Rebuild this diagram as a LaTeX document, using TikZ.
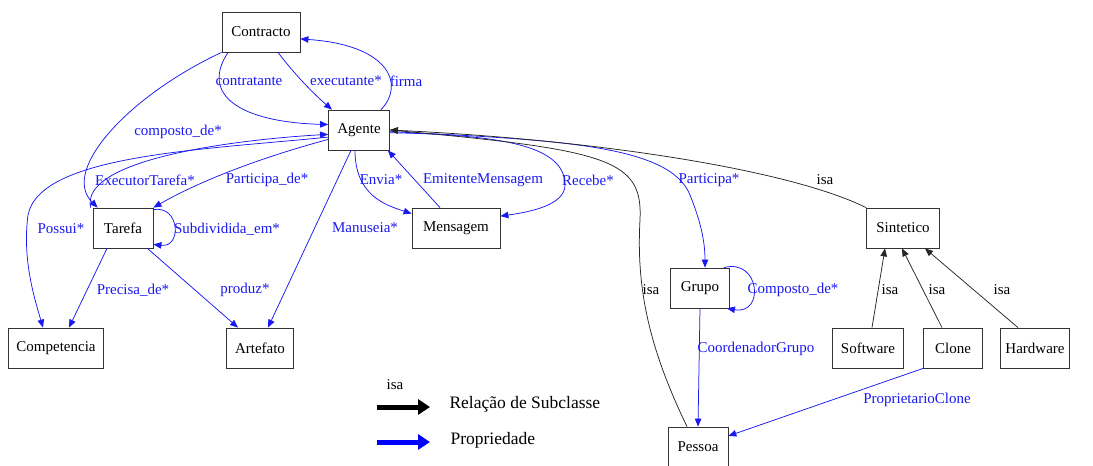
\documentclass[tikz,border=0pt]{standalone}
\usepackage{fontspec}
\setmainfont{Liberation Serif}
\usepackage{xcolor}
\usepackage{tikz}
\usetikzlibrary{arrows.meta,positioning}

\definecolor{propblue}{RGB}{25,25,240}

\begin{document}
\begin{tikzpicture}[x=1pt,y=-1pt,font=\fontsize{15}{17}\selectfont,
    box/.style={draw=black!80,line width=0.8pt,minimum height=40pt,inner xsep=4pt,fill=white},
    prop/.style={propblue,line width=0.75pt,-{Triangle[length=8pt,width=6.5pt]}},
    isa/.style={black!85,line width=0.75pt,-{Triangle[length=8pt,width=6.5pt]}},
    plab/.style={text=propblue,inner sep=1pt},
    ilab/.style={text=black,inner sep=1pt},
    legk/.style={black,line width=5pt,-{Triangle[length=12pt,width=15pt]}},
    legp/.style={blue,line width=5pt,-{Triangle[length=12pt,width=15pt]}}]
\useasboundingbox (0,0) rectangle (1093,466);

\node[box,minimum width=78pt] (contr) at (261,32) {Contracto};
\node[box,minimum width=61pt] (agente) at (359,130) {Agente};
\node[box,minimum width=60pt] (tarefa) at (123,228) {Tarefa};
\node[box,minimum width=88pt] (msg) at (456,228) {Mensagem};
\node[box,minimum width=95pt] (comp) at (56,348) {Competencia};
\node[box,minimum width=67pt] (artef) at (260,348) {Artefato};
\node[box,minimum width=59pt] (grupo) at (700,288) {Grupo};
\node[box,minimum width=60pt] (pessoa) at (698,447) {Pessoa};
\node[box,minimum width=73pt] (sint) at (903,228) {Sintetico};
\node[box,minimum width=71pt] (soft) at (868,348) {Software};
\node[box,minimum width=59pt] (clone) at (953,348) {Clone};
\node[box,minimum width=69pt] (hard) at (1035,348) {Hardware};

\draw[prop] ([xshift=-33pt]contr.south) .. controls (200,95) and (240,122) .. (agente.170);
\draw[prop] ([xshift=17pt]contr.south) .. controls (295,75) and (315,95) .. ([xshift=-27pt]agente.north);
\draw[prop] ([xshift=22pt]agente.north) .. controls (405,85) and (390,45) .. (contr.-10);
\draw[prop] (contr.south west) .. controls (130,95) and (60,170) .. ([xshift=5pt]tarefa.north west);
\draw[prop] ([xshift=-2pt]tarefa.north west) .. controls (80,160) and (230,140) .. (agente.188);
\draw[prop] (agente.193) .. controls (200,150) and (40,155) .. (28,215) .. controls (22,260) and (35,300) .. ([xshift=-13pt]comp.north);
\draw[prop] (agente.197) .. controls (270,155) and (205,178) .. (tarefa.north east);
\draw[prop] ([yshift=-2pt]tarefa.north east) .. controls (180,205) and (182,248) .. ([yshift=4pt]tarefa.south east);
\draw[prop] ([xshift=-16pt]tarefa.south) -- ([xshift=13pt]comp.north);
\draw[prop] ([xshift=-6pt]tarefa.south east) -- ([xshift=-22pt]artef.north);
\draw[prop] ([xshift=-8pt]agente.south) -- ([xshift=8pt]artef.north);
\draw[prop] ([xshift=-4pt]agente.south) .. controls (355,195) and (385,205) .. ([yshift=-6pt]msg.north west);
\draw[prop] ([xshift=-16pt]msg.north) -- ([xshift=-2pt]agente.south east);
\draw[prop] (agente.-5) .. controls (500,135) and (565,145) .. (565,185) .. controls (565,205) and (530,212) .. (msg.15);
\draw[prop] (agente.-3) .. controls (560,140) and (670,145) .. (690,195) .. controls (700,220) and (705,240) .. ([xshift=5pt]grupo.north);
\draw[isa] ([xshift=-11pt]pessoa.north) .. controls (650,350) and (636,290) .. (640,220) .. controls (643,160) and (610,150) .. (agente.east);
\draw[isa] (sint.north west) .. controls (790,170) and (600,140) .. (agente.east);
\draw[prop] ([xshift=-6pt]grupo.north east) .. controls (760,258) and (765,315) .. ([xshift=-3pt]grupo.south east);
\draw[prop] (grupo.south) -- (pessoa.north);
\draw[prop] (clone.south west) -- (pessoa.20);
\foreach \src/\dx/\tx in {soft/4/-18,clone/-11/-1,hard/-17/22}
    \draw[isa] ([xshift=\dx pt]\src.north) -- ([xshift=\tx pt]sint.south);

\node[plab] (lcontratante) at (249,81) {contratante};
\node[plab] (lexecutante) at (346,81) {executante*};
\node[plab] (lfirma) at (406,81) {firma};
\node[plab] (lcomposto) at (178,132) {composto\_de*};
\node[plab] (lexecutor) at (145,180) {ExecutorTarefa*};
\node[plab] (lparticipade) at (267,180) {Participa\_de*};
\node[plab] (lpossui) at (61,229) {Possui*};
\node[plab] (lsubdiv) at (227,229) {Subdividida\_em*};
\node[plab] (lprecisa) at (133,290) {Precisa\_de*};
\node[plab] (lproduz) at (245,290) {produz*};
\node[plab] (lmanuseia) at (365,228) {Manuseia*};
\node[plab] (lenvia) at (381,180) {Envia*};
\node[plab] (lemitente) at (483,180) {EmitenteMensagem};
\node[plab] (lrecebe) at (588,180) {Recebe*};
\node[plab] (lparticipa) at (709,180) {Participa*};
\node[plab] (lcompostog) at (793,290) {Composto\_de*};
\node[plab] (lcoord) at (756,349) {CoordenadorGrupo};
\node[plab] (lprop) at (917,400) {ProprietarioClone};
\node[ilab] (lisasint) at (825,180) {isa};
\node[ilab] (lisapessoa) at (651,290) {isa};
\node[ilab] (lisasoft) at (890,290) {isa};
\node[ilab] (lisaclone) at (937,290) {isa};
\node[ilab] (lisahard) at (1002,290) {isa};

\node[ilab] (legisa) at (395,385) {isa};
\coordinate (ka) at (377,407);
\coordinate (kb) at (430,407);
\draw[legk] (ka) -- (kb);
\node[anchor=west,font=\fontsize{17.5}{19}\selectfont] (legsub) at (446,404) {Relação de Subclasse};
\coordinate (pa) at (377,442);
\coordinate (pb) at (430,442);
\draw[legp] (pa) -- (pb);
\node[anchor=west,font=\fontsize{17.5}{19}\selectfont] (legprop) at (447,440) {Propriedade};
\end{tikzpicture}
\end{document}
